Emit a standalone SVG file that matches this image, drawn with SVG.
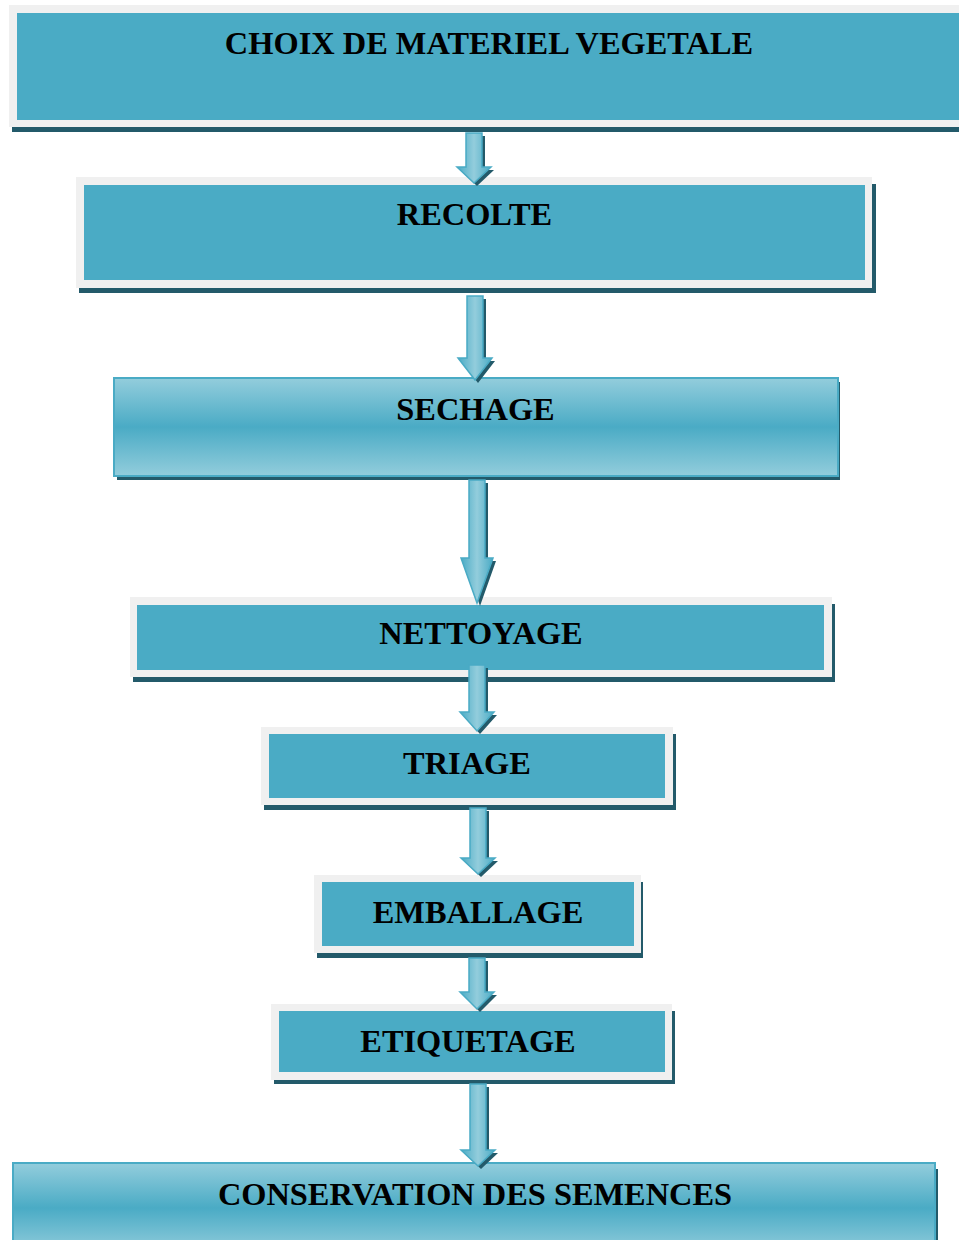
<svg xmlns="http://www.w3.org/2000/svg" width="959" height="1240" viewBox="0 0 959 1240">
<defs>
<linearGradient id="vg" x1="0" y1="0" x2="0" y2="1">
<stop offset="0" stop-color="#93cddc"/>
<stop offset="0.5" stop-color="#4aabc5"/>
<stop offset="1" stop-color="#93cddc"/>
</linearGradient>
<linearGradient id="ag" x1="0" y1="0" x2="1" y2="0">
<stop offset="0" stop-color="#4aabc5"/>
<stop offset="0.5" stop-color="#93cddc"/>
<stop offset="1" stop-color="#4aabc5"/>
</linearGradient>
<style>
.frame{fill:#f0f0f0}
.teal{fill:#4aabc5}
.shadow{fill:#235a6a}
.grad{fill:url(#vg);stroke:#4aabc5;stroke-width:2}
.lbl{font-family:"Liberation Serif","Times New Roman",serif;font-weight:bold;font-size:32.4px;fill:#000;text-anchor:middle}
.arr{fill:url(#ag);stroke:#4aabc5;stroke-width:1.5}
.arrs{fill:#235a6a}
</style>
</defs>
<rect width="959" height="1240" fill="#fff"/>

<g id="n1">
<rect class="shadow" x="12" y="127" width="947" height="5"/>
<rect class="frame" x="9" y="5" width="950" height="122"/>
<rect class="teal" x="17" y="13" width="942" height="107"/>
<text class="lbl" x="489" y="54">CHOIX DE MATERIEL VEGETALE</text>
</g>

<g id="n2">
<rect class="shadow" x="79" y="184" width="797" height="109"/>
<rect class="frame" x="76" y="177" width="796" height="111"/>
<rect class="teal" x="84" y="185" width="781" height="95"/>
<text class="lbl" x="474.5" y="225">RECOLTE</text>
</g>

<g id="n3">
<rect class="shadow" x="117" y="382" width="723" height="98"/>
<rect class="grad" x="114" y="378" width="724" height="98"/>
<text class="lbl" x="475.5" y="420">SECHAGE</text>
</g>

<g id="n4">
<rect class="shadow" x="133" y="604" width="702" height="78"/>
<rect class="frame" x="130" y="597" width="702" height="80"/>
<rect class="teal" x="137" y="605" width="687" height="65"/>
<text class="lbl" x="481" y="644">NETTOYAGE</text>
</g>

<g id="n5">
<rect class="shadow" x="264" y="734" width="412" height="76"/>
<rect class="frame" x="261" y="727" width="412" height="78"/>
<rect class="teal" x="269" y="734" width="396" height="64"/>
<text class="lbl" x="467" y="774">TRIAGE</text>
</g>

<g id="n6">
<rect class="shadow" x="317" y="882" width="326" height="76"/>
<rect class="frame" x="314" y="875" width="327" height="78"/>
<rect class="teal" x="322" y="882" width="312" height="64"/>
<text class="lbl" x="478" y="923">EMBALLAGE</text>
</g>

<g id="n7">
<rect class="shadow" x="274" y="1011" width="401" height="73"/>
<rect class="frame" x="271" y="1004" width="401" height="76"/>
<rect class="teal" x="279" y="1011" width="386" height="61"/>
<text class="lbl" x="468" y="1052">ETIQUETAGE</text>
</g>

<g id="n8">
<rect class="shadow" x="16" y="1169" width="922" height="80"/>
<rect class="grad" x="13" y="1163" width="922" height="90"/>
<text class="lbl" x="475" y="1205">CONSERVATION DES SEMENCES</text>
</g>

<g id="connectors">
<g id="a1"><path class="arrs" transform="translate(3,3)" d="M466,133H482V167H491L474,183L457,167H466Z"/><path class="arr" d="M466,133H482V167H491L474,183L457,167H466Z"/></g>
<g id="a2"><path class="arrs" transform="translate(3,3)" d="M467,296H483V358H492L475,380L458,358H467Z"/><path class="arr" d="M467,296H483V358H492L475,380L458,358H467Z"/></g>
<g id="a3"><path class="arrs" transform="translate(3,3)" d="M469,480H485V558H493L477,603L461,558H469Z"/><path class="arr" d="M469,480H485V558H493L477,603L461,558H469Z"/></g>
<g id="a4"><path class="arrs" transform="translate(3,3)" d="M469,665H485V712H494L477,731L460,712H469Z"/><path class="arr" d="M469,665H485V712H494L477,731L460,712H469Z"/></g>
<g id="a5"><path class="arrs" transform="translate(3,3)" d="M470,808H486V858H495L478,874L461,858H470Z"/><path class="arr" d="M470,808H486V858H495L478,874L461,858H470Z"/></g>
<g id="a6"><path class="arrs" transform="translate(3,3)" d="M469,958H485V992H494L477,1009L460,992H469Z"/><path class="arr" d="M469,958H485V992H494L477,1009L460,992H469Z"/></g>
<g id="a7"><path class="arrs" transform="translate(3,3)" d="M470,1084H486V1150H495L478,1166L461,1150H470Z"/><path class="arr" d="M470,1084H486V1150H495L478,1166L461,1150H470Z"/></g>
</g>
</svg>
